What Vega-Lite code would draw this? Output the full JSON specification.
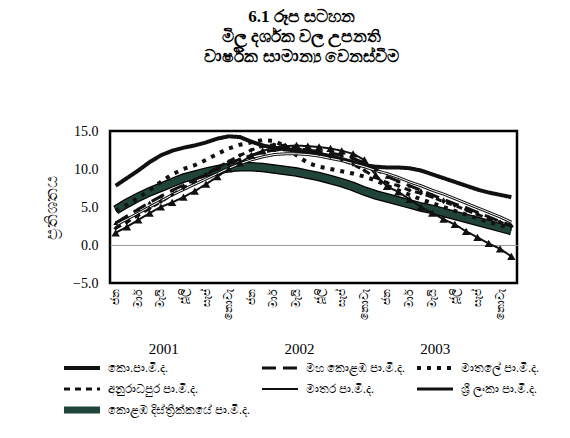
{
  "$schema": "https://vega.github.io/schema/vega-lite/v6.json",
  "width": 407,
  "height": 152,
  "autosize": {"type": "none"},
  "padding": {"left": 110, "top": 131, "right": 53, "bottom": 155},
  "background": "white",
  "title": {
    "text": ["6.1 රූප සටහන", "මිල දර්ශක වල උපනති", "වාර්ෂික සාමාන්\u200dය වෙනස්වීම"],
    "fontSize": 17, "fontWeight": "bold", "anchor": "middle", "offset": 58, "dx": -12, "lineHeight": 20, "color": "black"
  },
  "datasets": {
    "cpi": [
      {"month":"2001-01","series":"කොළඹ දිස්ත්\u200dරික්කයේ පා.මි.ද.","value":4.6},{"month":"2001-02","series":"කොළඹ දිස්ත්\u200dරික්කයේ පා.මි.ද.","value":5.5},{"month":"2001-03","series":"කොළඹ දිස්ත්\u200dරික්කයේ පා.මි.ද.","value":6.3},{"month":"2001-04","series":"කොළඹ දිස්ත්\u200dරික්කයේ පා.මි.ද.","value":7.0},{"month":"2001-05","series":"කොළඹ දිස්ත්\u200dරික්කයේ පා.මි.ද.","value":7.6},{"month":"2001-06","series":"කොළඹ දිස්ත්\u200dරික්කයේ පා.මි.ද.","value":8.2},{"month":"2001-07","series":"කොළඹ දිස්ත්\u200dරික්කයේ පා.මි.ද.","value":8.8},{"month":"2001-08","series":"කොළඹ දිස්ත්\u200dරික්කයේ පා.මි.ද.","value":9.2},{"month":"2001-09","series":"කොළඹ දිස්ත්\u200dරික්කයේ පා.මි.ද.","value":9.6},{"month":"2001-10","series":"කොළඹ දිස්ත්\u200dරික්කයේ පා.මි.ද.","value":9.9},{"month":"2001-11","series":"කොළඹ දිස්ත්\u200dරික්කයේ පා.මි.ද.","value":10.2},{"month":"2001-12","series":"කොළඹ දිස්ත්\u200dරික්කයේ පා.මි.ද.","value":10.3},
      {"month":"2002-01","series":"කොළඹ දිස්ත්\u200dරික්කයේ පා.මි.ද.","value":10.3},{"month":"2002-02","series":"කොළඹ දිස්ත්\u200dරික්කයේ පා.මි.ද.","value":10.2},{"month":"2002-03","series":"කොළඹ දිස්ත්\u200dරික්කයේ පා.මි.ද.","value":10.0},{"month":"2002-04","series":"කොළඹ දිස්ත්\u200dරික්කයේ පා.මි.ද.","value":9.8},{"month":"2002-05","series":"කොළඹ දිස්ත්\u200dරික්කයේ පා.මි.ද.","value":9.6},{"month":"2002-06","series":"කොළඹ දිස්ත්\u200dරික්කයේ පා.මි.ද.","value":9.3},{"month":"2002-07","series":"කොළඹ දිස්ත්\u200dරික්කයේ පා.මි.ද.","value":9.0},{"month":"2002-08","series":"කොළඹ දිස්ත්\u200dරික්කයේ පා.මි.ද.","value":8.6},{"month":"2002-09","series":"කොළඹ දිස්ත්\u200dරික්කයේ පා.මි.ද.","value":8.2},{"month":"2002-10","series":"කොළඹ දිස්ත්\u200dරික්කයේ පා.මි.ද.","value":7.7},{"month":"2002-11","series":"කොළඹ දිස්ත්\u200dරික්කයේ පා.මි.ද.","value":7.1},{"month":"2002-12","series":"කොළඹ දිස්ත්\u200dරික්කයේ පා.මි.ද.","value":6.6},
      {"month":"2003-01","series":"කොළඹ දිස්ත්\u200dරික්කයේ පා.මි.ද.","value":6.2},{"month":"2003-02","series":"කොළඹ දිස්ත්\u200dරික්කයේ පා.මි.ද.","value":5.8},{"month":"2003-03","series":"කොළඹ දිස්ත්\u200dරික්කයේ පා.මි.ද.","value":5.4},{"month":"2003-04","series":"කොළඹ දිස්ත්\u200dරික්කයේ පා.මි.ද.","value":5.0},{"month":"2003-05","series":"කොළඹ දිස්ත්\u200dරික්කයේ පා.මි.ද.","value":4.7},{"month":"2003-06","series":"කොළඹ දිස්ත්\u200dරික්කයේ පා.මි.ද.","value":4.3},{"month":"2003-07","series":"කොළඹ දිස්ත්\u200dරික්කයේ පා.මි.ද.","value":3.9},{"month":"2003-08","series":"කොළඹ දිස්ත්\u200dරික්කයේ පා.මි.ද.","value":3.5},{"month":"2003-09","series":"කොළඹ දිස්ත්\u200dරික්කයේ පා.මි.ද.","value":3.1},{"month":"2003-10","series":"කොළඹ දිස්ත්\u200dරික්කයේ පා.මි.ද.","value":2.7},{"month":"2003-11","series":"කොළඹ දිස්ත්\u200dරික්කයේ පා.මි.ද.","value":2.3},{"month":"2003-12","series":"කොළඹ දිස්ත්\u200dරික්කයේ පා.මි.ද.","value":1.9},

      {"month":"2001-01","series":"කො.පා.මි.ද.","value":7.8},{"month":"2001-02","series":"කො.පා.මි.ද.","value":8.8},{"month":"2001-03","series":"කො.පා.මි.ද.","value":9.8},{"month":"2001-04","series":"කො.පා.මි.ද.","value":10.9},{"month":"2001-05","series":"කො.පා.මි.ද.","value":11.8},{"month":"2001-06","series":"කො.පා.මි.ද.","value":12.4},{"month":"2001-07","series":"කො.පා.මි.ද.","value":12.8},{"month":"2001-08","series":"කො.පා.මි.ද.","value":13.1},{"month":"2001-09","series":"කො.පා.මි.ද.","value":13.5},{"month":"2001-10","series":"කො.පා.මි.ද.","value":14.0},{"month":"2001-11","series":"කො.පා.මි.ද.","value":14.3},{"month":"2001-12","series":"කො.පා.මි.ද.","value":14.2},
      {"month":"2002-01","series":"කො.පා.මි.ද.","value":13.6},{"month":"2002-02","series":"කො.පා.මි.ද.","value":13.1},{"month":"2002-03","series":"කො.පා.මි.ද.","value":12.8},{"month":"2002-04","series":"කො.පා.මි.ද.","value":12.6},{"month":"2002-05","series":"කො.පා.මි.ද.","value":12.4},{"month":"2002-06","series":"කො.පා.මි.ද.","value":12.2},{"month":"2002-07","series":"කො.පා.මි.ද.","value":12.0},{"month":"2002-08","series":"කො.පා.මි.ද.","value":11.7},{"month":"2002-09","series":"කො.පා.මි.ද.","value":11.3},{"month":"2002-10","series":"කො.පා.මි.ද.","value":10.9},{"month":"2002-11","series":"කො.පා.මි.ද.","value":10.5},{"month":"2002-12","series":"කො.පා.මි.ද.","value":10.3},
      {"month":"2003-01","series":"කො.පා.මි.ද.","value":10.2},{"month":"2003-02","series":"කො.පා.මි.ද.","value":10.2},{"month":"2003-03","series":"කො.පා.මි.ද.","value":10.1},{"month":"2003-04","series":"කො.පා.මි.ද.","value":9.8},{"month":"2003-05","series":"කො.පා.මි.ද.","value":9.3},{"month":"2003-06","series":"කො.පා.මි.ද.","value":8.8},{"month":"2003-07","series":"කො.පා.මි.ද.","value":8.3},{"month":"2003-08","series":"කො.පා.මි.ද.","value":7.8},{"month":"2003-09","series":"කො.පා.මි.ද.","value":7.3},{"month":"2003-10","series":"කො.පා.මි.ද.","value":6.9},{"month":"2003-11","series":"කො.පා.මි.ද.","value":6.6},{"month":"2003-12","series":"කො.පා.මි.ද.","value":6.3},

      {"month":"2001-01","series":"මහ කොළඹ පා.මි.ද.","value":2.9},{"month":"2001-02","series":"මහ කොළඹ පා.මි.ද.","value":3.8},{"month":"2001-03","series":"මහ කොළඹ පා.මි.ද.","value":4.7},{"month":"2001-04","series":"මහ කොළඹ පා.මි.ද.","value":5.6},{"month":"2001-05","series":"මහ කොළඹ පා.මි.ද.","value":6.4},{"month":"2001-06","series":"මහ කොළඹ පා.මි.ද.","value":7.2},{"month":"2001-07","series":"මහ කොළඹ පා.මි.ද.","value":7.9},{"month":"2001-08","series":"මහ කොළඹ පා.මි.ද.","value":8.6},{"month":"2001-09","series":"මහ කොළඹ පා.මි.ද.","value":9.3},{"month":"2001-10","series":"මහ කොළඹ පා.මි.ද.","value":10.0},{"month":"2001-11","series":"මහ කොළඹ පා.මි.ද.","value":10.7},{"month":"2001-12","series":"මහ කොළඹ පා.මි.ද.","value":11.3},
      {"month":"2002-01","series":"මහ කොළඹ පා.මි.ද.","value":11.8},{"month":"2002-02","series":"මහ කොළඹ පා.මි.ද.","value":12.2},{"month":"2002-03","series":"මහ කොළඹ පා.මි.ද.","value":12.5},{"month":"2002-04","series":"මහ කොළඹ පා.මි.ද.","value":12.6},{"month":"2002-05","series":"මහ කොළඹ පා.මි.ද.","value":12.6},{"month":"2002-06","series":"මහ කොළඹ පා.මි.ද.","value":12.5},{"month":"2002-07","series":"මහ කොළඹ පා.මි.ද.","value":12.3},{"month":"2002-08","series":"මහ කොළඹ පා.මි.ද.","value":12.1},{"month":"2002-09","series":"මහ කොළඹ පා.මි.ද.","value":11.8},{"month":"2002-10","series":"මහ කොළඹ පා.මි.ද.","value":11.4},{"month":"2002-11","series":"මහ කොළඹ පා.මි.ද.","value":10.8},{"month":"2002-12","series":"මහ කොළඹ පා.මි.ද.","value":10.0},
      {"month":"2003-01","series":"මහ කොළඹ පා.මි.ද.","value":9.0},{"month":"2003-02","series":"මහ කොළඹ පා.මි.ද.","value":8.4},{"month":"2003-03","series":"මහ කොළඹ පා.මි.ද.","value":7.8},{"month":"2003-04","series":"මහ කොළඹ පා.මි.ද.","value":7.2},{"month":"2003-05","series":"මහ කොළඹ පා.මි.ද.","value":6.6},{"month":"2003-06","series":"මහ කොළඹ පා.මි.ද.","value":6.0},{"month":"2003-07","series":"මහ කොළඹ පා.මි.ද.","value":5.4},{"month":"2003-08","series":"මහ කොළඹ පා.මි.ද.","value":4.9},{"month":"2003-09","series":"මහ කොළඹ පා.මි.ද.","value":4.3},{"month":"2003-10","series":"මහ කොළඹ පා.මි.ද.","value":3.7},{"month":"2003-11","series":"මහ කොළඹ පා.මි.ද.","value":3.1},{"month":"2003-12","series":"මහ කොළඹ පා.මි.ද.","value":2.6},

      {"month":"2001-01","series":"මාතලේ පා.මි.ද.","value":4.5},{"month":"2001-02","series":"මාතලේ පා.මි.ද.","value":5.3},{"month":"2001-03","series":"මාතලේ පා.මි.ද.","value":6.2},{"month":"2001-04","series":"මාතලේ පා.මි.ද.","value":7.2},{"month":"2001-05","series":"මාතලේ පා.මි.ද.","value":8.3},{"month":"2001-06","series":"මාතලේ පා.මි.ද.","value":9.3},{"month":"2001-07","series":"මාතලේ පා.මි.ද.","value":10.0},{"month":"2001-08","series":"මාතලේ පා.මි.ද.","value":10.5},{"month":"2001-09","series":"මාතලේ පා.මි.ද.","value":11.2},{"month":"2001-10","series":"මාතලේ පා.මි.ද.","value":12.0},{"month":"2001-11","series":"මාතලේ පා.මි.ද.","value":12.7},{"month":"2001-12","series":"මාතලේ පා.මි.ද.","value":13.2},
      {"month":"2002-01","series":"මාතලේ පා.මි.ද.","value":13.5},{"month":"2002-02","series":"මාතලේ පා.මි.ද.","value":13.8},{"month":"2002-03","series":"මාතලේ පා.මි.ද.","value":13.7},{"month":"2002-04","series":"මාතලේ පා.මි.ද.","value":13.0},{"month":"2002-05","series":"මාතලේ පා.මි.ද.","value":11.8},{"month":"2002-06","series":"මාතලේ පා.මි.ද.","value":10.8},{"month":"2002-07","series":"මාතලේ පා.මි.ද.","value":10.3},{"month":"2002-08","series":"මාතලේ පා.මි.ද.","value":10.0},{"month":"2002-09","series":"මාතලේ පා.මි.ද.","value":9.7},{"month":"2002-10","series":"මාතලේ පා.මි.ද.","value":9.4},{"month":"2002-11","series":"මාතලේ පා.මි.ද.","value":9.0},{"month":"2002-12","series":"මාතලේ පා.මි.ද.","value":8.5},
      {"month":"2003-01","series":"මාතලේ පා.මි.ද.","value":7.8},{"month":"2003-02","series":"මාතලේ පා.මි.ද.","value":7.2},{"month":"2003-03","series":"මාතලේ පා.මි.ද.","value":6.6},{"month":"2003-04","series":"මාතලේ පා.මි.ද.","value":6.0},{"month":"2003-05","series":"මාතලේ පා.මි.ද.","value":5.5},{"month":"2003-06","series":"මාතලේ පා.මි.ද.","value":5.0},{"month":"2003-07","series":"මාතලේ පා.මි.ද.","value":4.5},{"month":"2003-08","series":"මාතලේ පා.මි.ද.","value":4.0},{"month":"2003-09","series":"මාතලේ පා.මි.ද.","value":3.5},{"month":"2003-10","series":"මාතලේ පා.මි.ද.","value":3.0},{"month":"2003-11","series":"මාතලේ පා.මි.ද.","value":2.6},{"month":"2003-12","series":"මාතලේ පා.මි.ද.","value":2.2},

      {"month":"2001-01","series":"අනුරාධපුර පා.මි.ද.","value":2.2},{"month":"2001-02","series":"අනුරාධපුර පා.මි.ද.","value":3.0},{"month":"2001-03","series":"අනුරාධපුර පා.මි.ද.","value":3.9},{"month":"2001-04","series":"අනුරාධපුර පා.මි.ද.","value":4.8},{"month":"2001-05","series":"අනුරාධපුර පා.මි.ද.","value":5.7},{"month":"2001-06","series":"අනුරාධපුර පා.මි.ද.","value":6.6},{"month":"2001-07","series":"අනුරාධපුර පා.මි.ද.","value":7.5},{"month":"2001-08","series":"අනුරාධපුර පා.මි.ද.","value":8.4},{"month":"2001-09","series":"අනුරාධපුර පා.මි.ද.","value":9.3},{"month":"2001-10","series":"අනුරාධපුර පා.මි.ද.","value":10.2},{"month":"2001-11","series":"අනුරාධපුර පා.මි.ද.","value":11.0},{"month":"2001-12","series":"අනුරාධපුර පා.මි.ද.","value":11.8},
      {"month":"2002-01","series":"අනුරාධපුර පා.මි.ද.","value":12.5},{"month":"2002-02","series":"අනුරාධපුර පා.මි.ද.","value":13.0},{"month":"2002-03","series":"අනුරාධපුර පා.මි.ද.","value":13.2},{"month":"2002-04","series":"අනුරාධපුර පා.මි.ද.","value":13.1},{"month":"2002-05","series":"අනුරාධපුර පා.මි.ද.","value":12.8},{"month":"2002-06","series":"අනුරාධපුර පා.මි.ද.","value":12.4},{"month":"2002-07","series":"අනුරාධපුර පා.මි.ද.","value":12.0},{"month":"2002-08","series":"අනුරාධපුර පා.මි.ද.","value":11.6},{"month":"2002-09","series":"අනුරාධපුර පා.මි.ද.","value":11.2},{"month":"2002-10","series":"අනුරාධපුර පා.මි.ද.","value":10.6},{"month":"2002-11","series":"අනුරාධපුර පා.මි.ද.","value":9.8},{"month":"2002-12","series":"අනුරාධපුර පා.මි.ද.","value":8.9},
      {"month":"2003-01","series":"අනුරාධපුර පා.මි.ද.","value":8.2},{"month":"2003-02","series":"අනුරාධපුර පා.මි.ද.","value":7.8},{"month":"2003-03","series":"අනුරාධපුර පා.මි.ද.","value":7.2},{"month":"2003-04","series":"අනුරාධපුර පා.මි.ද.","value":6.8},{"month":"2003-05","series":"අනුරාධපුර පා.මි.ද.","value":6.3},{"month":"2003-06","series":"අනුරාධපුර පා.මි.ද.","value":5.7},{"month":"2003-07","series":"අනුරාධපුර පා.මි.ද.","value":5.2},{"month":"2003-08","series":"අනුරාධපුර පා.මි.ද.","value":4.6},{"month":"2003-09","series":"අනුරාධපුර පා.මි.ද.","value":4.0},{"month":"2003-10","series":"අනුරාධපුර පා.මි.ද.","value":3.5},{"month":"2003-11","series":"අනුරාධපුර පා.මි.ද.","value":3.0},{"month":"2003-12","series":"අනුරාධපුර පා.මි.ද.","value":2.5},

      {"month":"2001-01","series":"මාතර පා.මි.ද.","value":1.6},{"month":"2001-02","series":"මාතර පා.මි.ද.","value":2.4},{"month":"2001-03","series":"මාතර පා.මි.ද.","value":3.3},{"month":"2001-04","series":"මාතර පා.මි.ද.","value":4.2},{"month":"2001-05","series":"මාතර පා.මි.ද.","value":5.0},{"month":"2001-06","series":"මාතර පා.මි.ද.","value":5.6},{"month":"2001-07","series":"මාතර පා.මි.ද.","value":6.3},{"month":"2001-08","series":"මාතර පා.මි.ද.","value":7.1},{"month":"2001-09","series":"මාතර පා.මි.ද.","value":8.0},{"month":"2001-10","series":"මාතර පා.මි.ද.","value":9.0},{"month":"2001-11","series":"මාතර පා.මි.ද.","value":10.0},{"month":"2001-12","series":"මාතර පා.මි.ද.","value":10.8},
      {"month":"2002-01","series":"මාතර පා.මි.ද.","value":11.8},{"month":"2002-02","series":"මාතර පා.මි.ද.","value":12.4},{"month":"2002-03","series":"මාතර පා.මි.ද.","value":12.8},{"month":"2002-04","series":"මාතර පා.මි.ද.","value":13.0},{"month":"2002-05","series":"මාතර පා.මි.ද.","value":13.1},{"month":"2002-06","series":"මාතර පා.මි.ද.","value":13.0},{"month":"2002-07","series":"මාතර පා.මි.ද.","value":12.9},{"month":"2002-08","series":"මාතර පා.මි.ද.","value":12.7},{"month":"2002-09","series":"මාතර පා.මි.ද.","value":12.4},{"month":"2002-10","series":"මාතර පා.මි.ද.","value":12.0},{"month":"2002-11","series":"මාතර පා.මි.ද.","value":11.2},{"month":"2002-12","series":"මාතර පා.මි.ද.","value":9.2},
      {"month":"2003-01","series":"මාතර පා.මි.ද.","value":7.7},{"month":"2003-02","series":"මාතර පා.මි.ද.","value":7.0},{"month":"2003-03","series":"මාතර පා.මි.ද.","value":6.0},{"month":"2003-04","series":"මාතර පා.මි.ද.","value":5.0},{"month":"2003-05","series":"මාතර පා.මි.ද.","value":4.2},{"month":"2003-06","series":"මාතර පා.මි.ද.","value":3.4},{"month":"2003-07","series":"මාතර පා.මි.ද.","value":2.7},{"month":"2003-08","series":"මාතර පා.මි.ද.","value":1.8},{"month":"2003-09","series":"මාතර පා.මි.ද.","value":1.0},{"month":"2003-10","series":"මාතර පා.මි.ද.","value":0.2},{"month":"2003-11","series":"මාතර පා.මි.ද.","value":-0.5},{"month":"2003-12","series":"මාතර පා.මි.ද.","value":-1.5},

      {"month":"2001-01","series":"ශ්\u200dරී ලංකා පා.මි.ද.","value":2.6},{"month":"2001-02","series":"ශ්\u200dරී ලංකා පා.මි.ද.","value":3.4},{"month":"2001-03","series":"ශ්\u200dරී ලංකා පා.මි.ද.","value":4.2},{"month":"2001-04","series":"ශ්\u200dරී ලංකා පා.මි.ද.","value":5.0},{"month":"2001-05","series":"ශ්\u200dරී ලංකා පා.මි.ද.","value":5.8},{"month":"2001-06","series":"ශ්\u200dරී ලංකා පා.මි.ද.","value":6.6},{"month":"2001-07","series":"ශ්\u200dරී ලංකා පා.මි.ද.","value":7.3},{"month":"2001-08","series":"ශ්\u200dරී ලංකා පා.මි.ද.","value":8.0},{"month":"2001-09","series":"ශ්\u200dරී ලංකා පා.මි.ද.","value":8.7},{"month":"2001-10","series":"ශ්\u200dරී ලංකා පා.මි.ද.","value":9.4},{"month":"2001-11","series":"ශ්\u200dරී ලංකා පා.මි.ද.","value":10.1},{"month":"2001-12","series":"ශ්\u200dරී ලංකා පා.මි.ද.","value":10.7},
      {"month":"2002-01","series":"ශ්\u200dරී ලංකා පා.මි.ද.","value":11.2},{"month":"2002-02","series":"ශ්\u200dරී ලංකා පා.මි.ද.","value":11.6},{"month":"2002-03","series":"ශ්\u200dරී ලංකා පා.මි.ද.","value":11.9},{"month":"2002-04","series":"ශ්\u200dරී ලංකා පා.මි.ද.","value":12.0},{"month":"2002-05","series":"ශ්\u200dරී ලංකා පා.මි.ද.","value":12.0},{"month":"2002-06","series":"ශ්\u200dරී ලංකා පා.මි.ද.","value":11.9},{"month":"2002-07","series":"ශ්\u200dරී ලංකා පා.මි.ද.","value":11.7},{"month":"2002-08","series":"ශ්\u200dරී ලංකා පා.මි.ද.","value":11.4},{"month":"2002-09","series":"ශ්\u200dරී ලංකා පා.මි.ද.","value":11.1},{"month":"2002-10","series":"ශ්\u200dරී ලංකා පා.මි.ද.","value":10.7},{"month":"2002-11","series":"ශ්\u200dරී ලංකා පා.මි.ද.","value":10.3},{"month":"2002-12","series":"ශ්\u200dරී ලංකා පා.මි.ද.","value":9.8},
      {"month":"2003-01","series":"ශ්\u200dරී ලංකා පා.මි.ද.","value":9.4},{"month":"2003-02","series":"ශ්\u200dරී ලංකා පා.මි.ද.","value":8.9},{"month":"2003-03","series":"ශ්\u200dරී ලංකා පා.මි.ද.","value":8.3},{"month":"2003-04","series":"ශ්\u200dරී ලංකා පා.මි.ද.","value":7.8},{"month":"2003-05","series":"ශ්\u200dරී ලංකා පා.මි.ද.","value":7.2},{"month":"2003-06","series":"ශ්\u200dරී ලංකා පා.මි.ද.","value":6.7},{"month":"2003-07","series":"ශ්\u200dරී ලංකා පා.මි.ද.","value":6.1},{"month":"2003-08","series":"ශ්\u200dරී ලංකා පා.මි.ද.","value":5.5},{"month":"2003-09","series":"ශ්\u200dරී ලංකා පා.මි.ද.","value":4.9},{"month":"2003-10","series":"ශ්\u200dරී ලංකා පා.මි.ද.","value":4.3},{"month":"2003-11","series":"ශ්\u200dරී ලංකා පා.මි.ද.","value":3.7},{"month":"2003-12","series":"ශ්\u200dරී ලංකා පා.මි.ද.","value":3.0}
    ],
    "years": [{"year": "2001"}, {"year": "2002"}, {"year": "2003"}]
  },
  "layer": [
    {
      "data": {"name": "cpi"},
      "encoding": {
        "x": {
          "field": "month", "type": "ordinal",
          "scale": {"type": "point", "padding": 0.5},
          "axis": {
            "title": null, "labelAngle": -90, "labelFontSize": 11, "labelPadding": 5,
            "ticks": false, "domain": false, "grid": false, "labelOverlap": false,
            "labelExpr": "slice(datum.value,5)=='01'?'ජන':slice(datum.value,5)=='03'?'මාර්':slice(datum.value,5)=='05'?'මැයි':slice(datum.value,5)=='07'?'ජූලි':slice(datum.value,5)=='09'?'සැප්':slice(datum.value,5)=='11'?'නොවැ':''"
          }
        },
        "y": {
          "field": "value", "type": "quantitative",
          "scale": {"domain": [-5, 15], "nice": false, "zero": false},
          "axis": {
            "title": "ප්\u200dරතිශතය", "values": [-5, 0, 5, 10, 15], "format": ".1f",
            "labelFontSize": 14, "labelPadding": 12, "ticks": false, "domain": false,
            "grid": true, "gridColor": "#9a9a9a", "gridWidth": 1,
            "gridOpacity": {"condition": {"test": "datum.value === 0", "value": 1}, "value": 0},
            "titleFontSize": 17, "titleFontWeight": "normal", "titlePadding": 12
          }
        }
      },
      "layer": [
        {
          "transform": [{"filter": {"field": "series", "equal": "කොළඹ දිස්ත්\u200dරික්කයේ පා.මි.ද."}}],
          "mark": {"type": "line", "color": "black", "strokeWidth": 9.5}
        },
        {
          "transform": [{"filter": {"field": "series", "equal": "කොළඹ දිස්ත්\u200dරික්කයේ පා.මි.ද."}}],
          "mark": {"type": "line"},
          "encoding": {
            "color": {"field": "series", "type": "nominal", "legend": {"title": null},
              "scale": {"domain": ["කො.පා.මි.ද.", "මහ කොළඹ පා.මි.ද.", "මාතලේ පා.මි.ද.", "අනුරාධපුර පා.මි.ද.", "මාතර පා.මි.ද.", "ශ්\u200dරී ලංකා පා.මි.ද.", "කොළඹ දිස්ත්\u200dරික්කයේ පා.මි.ද."],
                "range": ["#111111", "#111111", "#111111", "#111111", "#111111", "#111111", "#21443a"]}},
            "strokeDash": {"field": "series", "type": "nominal", "legend": {"title": null},
              "scale": {"domain": ["කො.පා.මි.ද.", "මහ කොළඹ පා.මි.ද.", "මාතලේ පා.මි.ද.", "අනුරාධපුර පා.මි.ද.", "මාතර පා.මි.ද.", "ශ්\u200dරී ලංකා පා.මි.ද.", "කොළඹ දිස්ත්\u200dරික්කයේ පා.මි.ද."],
                "range": [[1, 0], [14, 7], [4, 6], [6, 5], [1, 0], [1, 0], [1, 0]]}},
            "strokeWidth": {"field": "series", "type": "nominal", "legend": {"title": null},
              "scale": {"type": "ordinal", "domain": ["කො.පා.මි.ද.", "මහ කොළඹ පා.මි.ද.", "මාතලේ පා.මි.ද.", "අනුරාධපුර පා.මි.ද.", "මාතර පා.මි.ද.", "ශ්\u200dරී ලංකා පා.මි.ද.", "කොළඹ දිස්ත්\u200dරික්කයේ පා.මි.ද."],
                "range": [4, 3, 4, 3, 2, 3, 7]}}
          }
        },
        {
          "transform": [{"filter": {"not": {"field": "series", "equal": "කොළඹ දිස්ත්\u200dරික්කයේ පා.මි.ද."}}}],
          "mark": {"type": "line"},
          "encoding": {
            "color": {"field": "series", "type": "nominal", "legend": {"title": null},
              "scale": {"domain": ["කො.පා.මි.ද.", "මහ කොළඹ පා.මි.ද.", "මාතලේ පා.මි.ද.", "අනුරාධපුර පා.මි.ද.", "මාතර පා.මි.ද.", "ශ්\u200dරී ලංකා පා.මි.ද.", "කොළඹ දිස්ත්\u200dරික්කයේ පා.මි.ද."],
                "range": ["#111111", "#111111", "#111111", "#111111", "#111111", "#111111", "#21443a"]}},
            "strokeDash": {"field": "series", "type": "nominal", "legend": {"title": null},
              "scale": {"domain": ["කො.පා.මි.ද.", "මහ කොළඹ පා.මි.ද.", "මාතලේ පා.මි.ද.", "අනුරාධපුර පා.මි.ද.", "මාතර පා.මි.ද.", "ශ්\u200dරී ලංකා පා.මි.ද.", "කොළඹ දිස්ත්\u200dරික්කයේ පා.මි.ද."],
                "range": [[1, 0], [14, 7], [4, 6], [6, 5], [1, 0], [1, 0], [1, 0]]}},
            "strokeWidth": {"field": "series", "type": "nominal", "legend": {"title": null},
              "scale": {"type": "ordinal", "domain": ["කො.පා.මි.ද.", "මහ කොළඹ පා.මි.ද.", "මාතලේ පා.මි.ද.", "අනුරාධපුර පා.මි.ද.", "මාතර පා.මි.ද.", "ශ්\u200dරී ලංකා පා.මි.ද.", "කොළඹ දිස්ත්\u200dරික්කයේ පා.මි.ද."],
                "range": [4, 3, 4, 3, 2, 3, 7]}}
          }
        },
        {
          "transform": [{"filter": {"field": "series", "equal": "ශ්\u200dරී ලංකා පා.මි.ද."}}],
          "mark": {"type": "line", "color": "white", "strokeWidth": 1}
        },
        {
          "transform": [{"filter": {"field": "series", "equal": "මාතර පා.මි.ද."}}],
          "mark": {"type": "point", "shape": "triangle-up", "filled": true, "color": "#111111", "size": 70, "opacity": 1}
        },
        {
          "transform": [{"filter": {"field": "series", "equal": "මහ කොළඹ පා.මි.ද."}}],
          "mark": {"type": "point", "shape": "triangle-up", "filled": true, "color": "#111111", "size": 22, "opacity": 1}
        },
        {
          "transform": [{"filter": {"field": "series", "equal": "අනුරාධපුර පා.මි.ද."}}],
          "mark": {"type": "point", "shape": "diamond", "filled": true, "color": "#111111", "size": 20, "opacity": 1}
        }
      ]
    },
    {
      "data": {"name": "years"},
      "mark": {"type": "point", "opacity": 0},
      "encoding": {
        "x": {
          "field": "year", "type": "ordinal",
          "scale": {"type": "band", "paddingInner": 0, "paddingOuter": 0},
          "axis": {"orient": "bottom", "offset": 58, "title": null, "domain": false, "ticks": false,
            "labelAngle": 0, "labelFontSize": 15, "labelPadding": 0, "labelOffset": -14, "grid": false}
        }
      }
    }
  ],
  "resolve": {"scale": {"x": "independent"}},
  "config": {
    "font": "Liberation Serif",
    "view": {"stroke": "black", "strokeWidth": 2.5, "fill": "white"},
    "axis": {"labelColor": "black", "titleColor": "black"},
    "legend": {
      "orient": "none", "legendX": -50, "legendY": 229, "columns": 3, "direction": "horizontal",
      "symbolType": "stroke", "symbolSize": 1300, "labelFontSize": 12, "labelColor": "black",
      "columnPadding": 8, "rowPadding": 5, "labelOffset": 4, "labelLimit": 220, "clipHeight": 16
    }
  }
}
